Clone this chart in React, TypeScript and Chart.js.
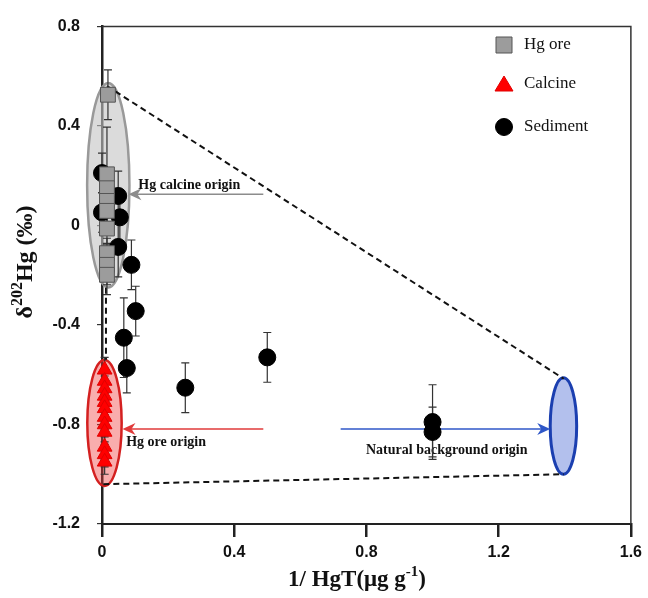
import React, { useEffect, useRef } from "react";
import { Chart, registerables } from "chart.js";

Chart.register(...registerables);

// ---------- data ----------
const X_TICKS = [0, 0.4, 0.8, 1.2, 1.6];
const Y_TICKS = [-1.2, -0.8, -0.4, 0, 0.4, 0.8];

const SERIES_NAMES = ["Hg ore", "Calcine", "Sediment"];

const oreX = [0.018, 0.015, 0.015, 0.015, 0.015, 0.015, 0.015, 0.015, 0.015];
const oreY = [0.526, 0.206, 0.15, 0.099, 0.059, -0.012, -0.111, -0.158, -0.198];
const oreErr = [0.1, 0.19, 0.08, 0.06, 0.06, 0.06, 0.06, 0.08, 0.08];

const calcineX = [0.008, 0.008, 0.008, 0.008, 0.008, 0.008, 0.008, 0.008, 0.008, 0.008, 0.008, 0.008];
const calcineY = [-0.58, -0.625, -0.655, -0.685, -0.71, -0.735, -0.77, -0.8, -0.83, -0.89, -0.92, -0.95];
const calcineErr = [0.05, 0.05, 0.05, 0.05, 0.05, 0.05, 0.05, 0.05, 0.05, 0.05, 0.05, 0.05];

const sedX = [0.0, 0.049, 0.0, 0.054, 0.049, 0.089, 0.102, 0.066, 0.075, 0.252, 0.5, 1.0, 1.0];
const sedY = [0.211, 0.119, 0.053, 0.033, -0.086, -0.158, -0.344, -0.451, -0.573, -0.652, -0.53, -0.79, -0.83];
const sedErr = [0.08, 0.1, 0.08, 0.1, 0.12, 0.1, 0.1, 0.16, 0.1, 0.1, 0.1, 0.15, 0.1];

// source ellipses (gray = calcine origin, red = ore origin, blue = background)
const ellipseCX = [0.019, 0.0075, 1.396];
const ellipseCY = [0.162, -0.794, -0.806];
const ellipseRX = [0.064, 0.052, 0.04];
const ellipseRY = [0.411, 0.253, 0.194];
const ellipseFill = ["rgba(195,195,195,0.6)", "rgba(240,60,60,0.42)", "rgba(160,176,232,0.8)"];
const ellipseStroke = ["#999999", "#d42020", "#1b3fb0"];

// mixing lines (dashed)
const dashX1 = [0.015, 0.004, 0.012];
const dashY1 = [0.561, -1.04, -0.25];
const dashX2 = [1.397, 1.397, 0.012];
const dashY2 = [-0.616, -1.0, -0.54];

// arrows with labels
const arrowLabels = ["Hg calcine origin", "Hg ore origin", "Natural background origin"];
const arrowFromX = [0.488, 0.488, 0.722];
const arrowToX = [0.08, 0.062, 1.356];
const arrowY = [0.126, -0.818, -0.818];
const arrowColors = ["#8c8c8c", "#e03a3a", "#2f57c8"];
const labelX = [0.264, 0.194, 1.043];
const labelY = [0.16, -0.87, -0.905];

// ---------- helpers ----------
type Part = { t: string; sup?: boolean };

function drawRich(ctx: CanvasRenderingContext2D, parts: Part[], x: number, y: number, size: number, rotate: boolean) {
  const supSize = Math.round(size * 0.65);
  const font = (s: number) => `bold ${s}px "Liberation Serif", "Times New Roman", serif`;
  let total = 0;
  const widths = parts.map((p) => {
    ctx.font = font(p.sup ? supSize : size);
    const w = ctx.measureText(p.t).width;
    total += w;
    return w;
  });
  ctx.save();
  ctx.translate(x, y);
  if (rotate) ctx.rotate(-Math.PI / 2);
  ctx.fillStyle = "#111";
  ctx.textBaseline = "alphabetic";
  ctx.textAlign = "left";
  let cx = -total / 2;
  parts.forEach((p, i) => {
    ctx.font = font(p.sup ? supSize : size);
    ctx.fillText(p.t, cx, p.sup ? size * 0.35 - size * 0.42 : size * 0.35);
    cx += widths[i];
  });
  ctx.restore();
}

function drawErrorBars(ctx: CanvasRenderingContext2D, chart: any, xs: number[], ys: number[], errs: number[]) {
  const sx = chart.scales.x;
  const sy = chart.scales.y;
  ctx.save();
  ctx.strokeStyle = "#333";
  ctx.lineWidth = 1.2;
  xs.forEach((xv, i) => {
    const px = sx.getPixelForValue(xv);
    const top = sy.getPixelForValue(ys[i] + errs[i]);
    const bot = sy.getPixelForValue(ys[i] - errs[i]);
    ctx.beginPath();
    ctx.moveTo(px, top);
    ctx.lineTo(px, bot);
    ctx.moveTo(px - 4, top);
    ctx.lineTo(px + 4, top);
    ctx.moveTo(px - 4, bot);
    ctx.lineTo(px + 4, bot);
    ctx.stroke();
  });
  ctx.restore();
}

const decorPlugin = {
  id: "decor",
  beforeDatasetsDraw(chart: any) {
    const ctx: CanvasRenderingContext2D = chart.ctx;
    const sx = chart.scales.x;
    const sy = chart.scales.y;
    // ellipses
    ellipseCX.forEach((cx, i) => {
      const px = sx.getPixelForValue(cx);
      const py = sy.getPixelForValue(ellipseCY[i]);
      const rx = Math.abs(sx.getPixelForValue(cx + ellipseRX[i]) - px);
      const ry = Math.abs(sy.getPixelForValue(ellipseCY[i] + ellipseRY[i]) - py);
      ctx.save();
      ctx.beginPath();
      ctx.ellipse(px, py, rx, ry, 0, 0, Math.PI * 2);
      ctx.fillStyle = ellipseFill[i];
      ctx.fill();
      ctx.lineWidth = i === 2 ? 3 : 2.5;
      ctx.strokeStyle = ellipseStroke[i];
      ctx.stroke();
      ctx.restore();
    });
    // dashed mixing lines
    ctx.save();
    ctx.setLineDash([6, 4]);
    ctx.strokeStyle = "#111";
    ctx.lineWidth = 2;
    dashX1.forEach((x1, i) => {
      ctx.beginPath();
      ctx.moveTo(sx.getPixelForValue(x1), sy.getPixelForValue(dashY1[i]));
      ctx.lineTo(sx.getPixelForValue(dashX2[i]), sy.getPixelForValue(dashY2[i]));
      ctx.stroke();
    });
    ctx.restore();
    // arrows
    arrowFromX.forEach((fx, i) => {
      const x1 = sx.getPixelForValue(fx);
      const x2 = sx.getPixelForValue(arrowToX[i]);
      const y = sy.getPixelForValue(arrowY[i]);
      const dir = Math.sign(x2 - x1);
      ctx.save();
      ctx.strokeStyle = arrowColors[i];
      ctx.fillStyle = arrowColors[i];
      ctx.lineWidth = 1.5;
      ctx.beginPath();
      ctx.moveTo(x1, y);
      ctx.lineTo(x2 - dir * 6, y);
      ctx.stroke();
      ctx.beginPath();
      ctx.moveTo(x2, y);
      ctx.lineTo(x2 - dir * 13, y - 6);
      ctx.lineTo(x2 - dir * 9, y);
      ctx.lineTo(x2 - dir * 13, y + 6);
      ctx.closePath();
      ctx.fill();
      ctx.restore();
      // label
      ctx.save();
      ctx.font = 'bold 14px "Liberation Serif", "Times New Roman", serif';
      ctx.fillStyle = "#111";
      ctx.textAlign = "center";
      ctx.textBaseline = "middle";
      ctx.fillText(arrowLabels[i], sx.getPixelForValue(labelX[i]), sy.getPixelForValue(labelY[i]));
      ctx.restore();
    });
    // error bars
    drawErrorBars(ctx, chart, oreX, oreY, oreErr);
    drawErrorBars(ctx, chart, calcineX, calcineY, calcineErr);
    drawErrorBars(ctx, chart, sedX, sedY, sedErr);
  },
  afterDraw(chart: any) {
    const ctx: CanvasRenderingContext2D = chart.ctx;
    const a = chart.chartArea;
    // frame (top and right)
    ctx.save();
    ctx.strokeStyle = "#333";
    ctx.lineWidth = 1.5;
    ctx.beginPath();
    ctx.moveTo(a.left, a.top);
    ctx.lineTo(a.right, a.top);
    ctx.lineTo(a.right, a.bottom);
    ctx.stroke();
    ctx.restore();
    // legend
    const rows = [45, 84, 127];
    chart.data.datasets.forEach((ds: any, i: number) => {
      const mx = 504;
      const my = rows[i];
      ctx.save();
      ctx.fillStyle = ds.backgroundColor;
      ctx.strokeStyle = ds.borderColor;
      ctx.lineWidth = 1;
      ctx.beginPath();
      if (ds.pointStyle === "rect") {
        ctx.rect(mx - 8, my - 8, 16, 16);
      } else if (ds.pointStyle === "triangle") {
        ctx.moveTo(mx, my - 8);
        ctx.lineTo(mx + 9, my + 7);
        ctx.lineTo(mx - 9, my + 7);
        ctx.closePath();
      } else {
        ctx.arc(mx, my, 8.5, 0, Math.PI * 2);
      }
      ctx.fill();
      ctx.stroke();
      ctx.font = '17px "Liberation Serif", "Times New Roman", serif';
      ctx.fillStyle = "#111";
      ctx.textAlign = "left";
      ctx.textBaseline = "middle";
      ctx.fillText(ds.label, 524, my);
      ctx.restore();
    });
    // axis titles
    drawRich(ctx, [{ t: "1/ HgT(μg g" }, { t: "-1", sup: true }, { t: ")" }], 357, 578, 23, false);
    drawRich(ctx, [{ t: "δ" }, { t: "202", sup: true }, { t: "Hg (‰)" }], 24, 262, 24, true);
  },
};

const toPts = (xs: number[], ys: number[]) => xs.map((x, i) => ({ x, y: ys[i] }));
const fmt = (v: number) => {
  const r = Math.round(v * 10) / 10;
  return r === 0 ? "0" : String(r);
};

export default function App() {
  const ref = useRef<HTMLCanvasElement | null>(null);
  useEffect(() => {
    if (!ref.current) return;
    const chart = new Chart(ref.current, {
      type: "scatter",
      data: {
        datasets: [
          {
            label: SERIES_NAMES[0],
            data: toPts(oreX, oreY),
            pointStyle: "rect",
            pointRadius: 10.5,
            backgroundColor: "#9c9c9c",
            borderColor: "#555",
            borderWidth: 1,
            clip: false,
          },
          {
            label: SERIES_NAMES[1],
            data: toPts(calcineX, calcineY),
            pointStyle: "triangle",
            pointRadius: 8.5,
            backgroundColor: "#ff0000",
            borderColor: "#e00000",
            borderWidth: 1,
            clip: false,
          },
          {
            label: SERIES_NAMES[2],
            data: toPts(sedX, sedY),
            pointStyle: "circle",
            pointRadius: 8.5,
            backgroundColor: "#000000",
            borderColor: "#000000",
            borderWidth: 1,
            clip: false,
          },
        ] as any,
      },
      options: {
        animation: false,
        responsive: false,
        devicePixelRatio: 1,
        layout: { padding: { top: 18, right: 12, left: 0, bottom: 0 } },
        plugins: { legend: { display: false }, tooltip: { enabled: false } },
        scales: {
          x: {
            type: "linear",
            min: 0,
            max: 1.6,
            afterFit: (s: any) => {
              s.height = 74;
            },
            afterBuildTicks: (s: any) => {
              s.ticks = X_TICKS.map((v) => ({ value: v }));
            },
            ticks: {
              callback: (v: any) => fmt(Number(v)),
              font: { family: '"Liberation Sans", Arial, sans-serif', weight: "bold", size: 16 },
              color: "#111",
              padding: 6,
              maxRotation: 0,
            },
            grid: { display: true, drawOnChartArea: false, drawTicks: true, tickLength: 13, lineWidth: 2.5, color: "#222" },
            border: { display: true, color: "#222", width: 2 },
          },
          y: {
            type: "linear",
            min: -1.2,
            max: 0.8,
            afterFit: (s: any) => {
              s.width = 102;
            },
            afterBuildTicks: (s: any) => {
              s.ticks = Y_TICKS.map((v) => ({ value: v }));
            },
            ticks: {
              callback: (v: any) => fmt(Number(v)),
              font: { family: '"Liberation Sans", Arial, sans-serif', weight: "bold", size: 16 },
              color: "#111",
              padding: 17,
            },
            grid: { display: true, drawOnChartArea: false, drawTicks: true, tickLength: 5, lineWidth: 1.2, color: "#333" },
            border: { display: true, color: "#222", width: 2.5 },
          },
        },
      } as any,
      plugins: [decorPlugin],
    });
    return () => chart.destroy();
  }, []);
  return (
    <div style={{ position: "absolute", left: 0, top: 0, width: 648, height: 598, background: "#fff" }}>
      <canvas ref={ref} width={648} height={598} style={{ width: 648, height: 598, display: "block" }} />
    </div>
  );
}
